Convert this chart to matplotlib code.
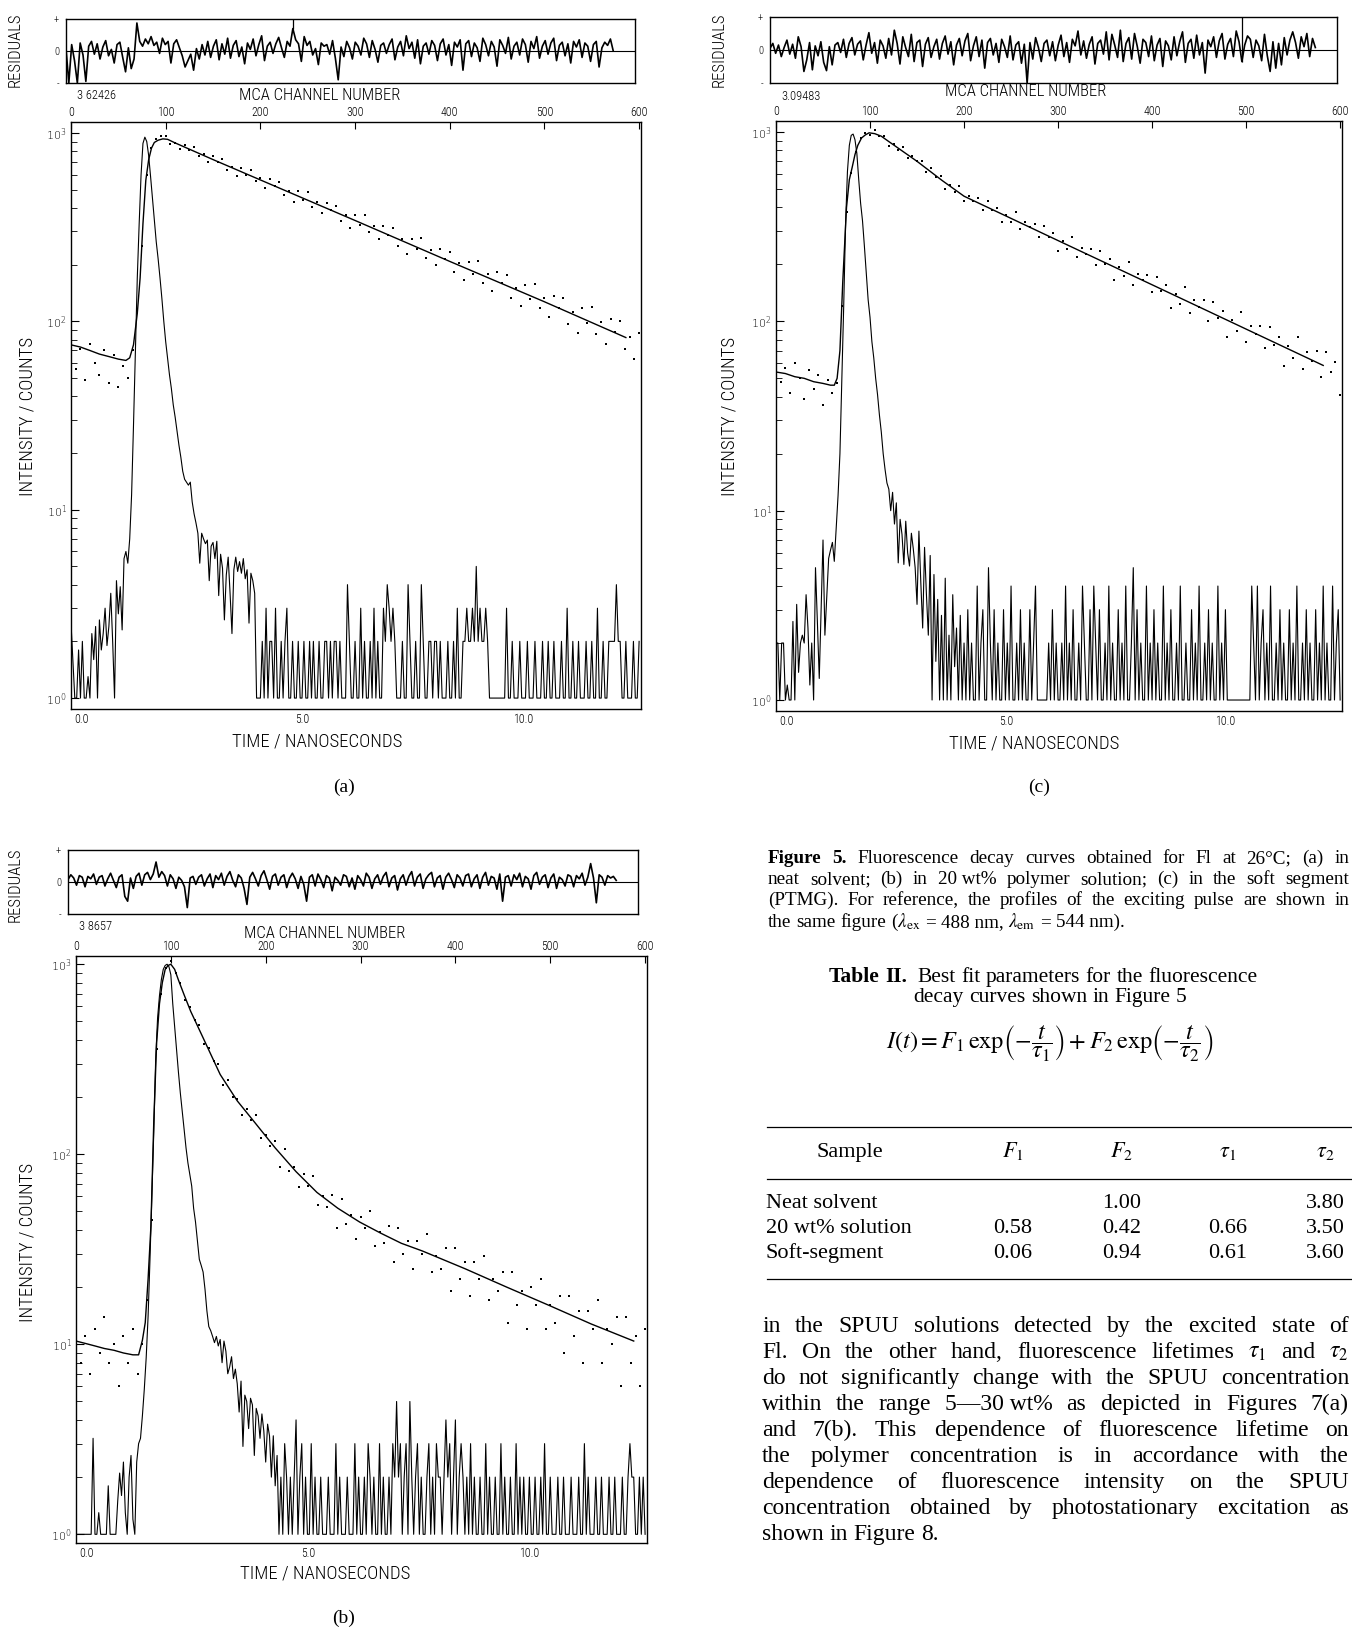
import numpy as np
import matplotlib
matplotlib.use("Agg")
import matplotlib.pyplot as plt
from matplotlib.lines import Line2D
from matplotlib.ticker import FixedLocator, NullFormatter

# ============================ DATA ============================
channel_ticks = [0, 100, 200, 300, 400, 500, 600]
time_ticks = [0.0, 5.0, 10.0]
time_labels = ["0.0", "5.0", "10.0"]
decades = [1, 10, 100, 1000]
decade_labels = [r"$10^{0}$", r"$10^{1}$", r"$10^{2}$", r"$10^{3}$"]
minor_counts = [2, 3, 4, 5, 6, 7, 8, 9, 20, 30, 40, 50, 60, 70, 80, 90,
                200, 300, 400, 500, 600, 700, 800, 900]

chi_a, chi_b, chi_c = "3 62426", "3 8657", "3.09483"
resid_marker_a = 240
resid_marker_c = 501

RESID_STEP, IRF_STEP, DOT_STEP = 3, 2, 5
CH_PER_NS, T0_CH = 46.7, 11.0

# ---- weighted residuals (every 3rd channel) ----
resid_a = [
    0.3, -4.0, 0.8, -1.2, -4.0, 1.0, -0.5, -3.8, 0.6, 1.2, -0.4, 0.9, -1.0, 0.5, 1.3, -0.6, 0.2, -1.5, 0.8, 1.1,
    -0.8, -2.6, 0.4, -2.2, -1.0, 3.5, 1.2, 0.6, 1.5, 0.9, 1.8, 0.7, 1.1, -0.3, 1.6, 0.8, 1.2, -1.5, 0.9, 1.4,
    0.4, -0.6, -2.0, -1.2, -0.4, -2.4, 0.3, -1.0, 0.8, -0.5, 1.2, -0.8, 0.6, 1.4, -1.1, 0.9, -0.4, 1.6, -0.9, 0.7,
    1.3, -0.7, 0.5, -1.6, 1.0, 0.2, 1.5, -0.6, 0.8, 1.9, -1.2, 0.6, 1.1, -0.3, 0.9, 1.7, 0.4, -0.8, 1.2, 0.6,
    2.8, 1.4, 0.9, -1.3, 1.8, 0.7, 1.2, -0.5, 0.3, -1.7, 1.0, 0.6, 0.8, -0.4, 1.3, -0.9, -3.6, 0.5, -0.7, 1.2,
    0.4, -1.0, 1.1, 0.6, -0.5, 1.6, 0.9, -0.8, 1.3, 0.2, -1.4, 0.7, 1.0, -0.3, 0.8, 1.5, -1.1, 0.5, 1.2, -0.6,
    1.9, 0.3, 1.1, -0.9, 1.4, -1.6, 0.6, 1.0, -0.4, 1.3, 0.7, -1.2, 0.9, 1.5, -0.5, 0.8, -1.8, 1.1, 0.5, 1.4,
    -2.4, 0.9, 1.3, -0.7, 1.0, 0.4, -1.3, 1.6, 0.8, -0.6, 1.2, 0.5, -1.9, 1.4, 0.7, -0.3, 1.7, -1.0, 0.6, 1.1,
    -0.5, 1.5, 0.8, -1.4, 1.2, 0.3, 1.8, -0.9, 0.6, 1.3, -0.4, 1.0, 1.6, -1.2, 0.7, 1.1, -0.6, 0.9, -1.5, 1.2,
    0.5, 1.4, -0.8, 1.0, 0.6, -1.3, 0.8, 1.2, -2.0, 0.4, 1.1, 0.7, 1.5, 0.0]

resid_c = [
    0.2, 0.8, -0.4, 0.6, -0.8, 0.3, 1.2, -0.5, 0.7, -1.0, 1.6, 0.4, -2.6, -1.2, 0.9, -2.4, 0.5, -0.7, 1.0, -1.5,
    -2.5, 0.4, -1.8, 0.6, 0.9, -0.3, 1.3, -0.9, 0.8, 1.5, -0.6, 0.7, 1.1, -1.2, 0.6, 2.1, -0.4, 0.9, -1.6, 1.2,
    0.5, -1.0, 1.4, -0.6, 2.4, 0.8, -1.7, 1.6, 0.3, -0.8, 1.9, -1.4, 0.9, 1.2, -2.0, 0.7, 1.5, -0.9, 0.4, 1.3,
    -1.1, 0.8, 1.7, -0.5, 1.0, -1.8, 0.6, 1.4, -0.7, 1.1, 2.0, -1.3, 0.5, 1.6, -0.8, 1.2, -2.2, 0.9, 1.4, -0.6,
    0.8, -1.5, 1.3, 0.4, -0.9, 1.7, -1.2, 0.6, 1.0, -1.6, 0.7, -4.0, 0.9, -1.1, 1.5, 0.3, -1.4, 0.8, 1.2, -0.7,
    1.0, -1.3, 0.6, 1.8, -0.8, 0.9, -1.5, 1.3, 0.5, 2.3, -0.6, 1.1, -1.0, 0.7, 1.6, -1.7, 0.8, 1.2, -0.5, 2.2,
    -1.2, 1.9, 0.6, -0.9, 2.4, -1.4, 0.8, 1.5, -1.1, 2.0, 0.4, -1.6, 1.3, 0.9, -0.8, 1.7, -1.3, 0.6, 1.4, -2.0,
    1.1, 0.5, -1.2, 1.6, -0.7, 1.0, 2.2, -1.5, 0.8, 1.3, -1.0, 1.8, -0.6, 0.9, -2.8, 1.2, 0.4, 1.6, -0.9, 1.1,
    2.0, -1.1, 0.7, 1.4, -0.8, 2.3, 1.0, -1.4, 0.6, 1.7, 1.3, -0.9, 1.2, 0.5, -1.3, 1.9, -0.7, -2.6, 1.0, -2.2,
    0.8, -1.8, 1.5, -0.6, 1.2, 2.2, 0.9, -1.0, 1.6, 0.4, 2.0, -0.8, 1.4, 0.3]

resid_b = [
    0.3, 0.9, 0.5, -0.4, 0.8, 0.6, -0.6, 0.7, 0.4, 1.0, -0.3, 0.6, 0.8, -0.5, 0.4, 1.1, 0.2, -0.7, 0.6, 0.9,
    -1.8, -2.4, 0.5, -0.8, 0.7, 1.1, -0.4, 0.9, 1.2, 0.3, 1.0, 2.5, 0.6, 1.3, 0.8, -0.5, 0.9, 0.4, -0.8, 0.6,
    0.2, -0.6, -3.2, 0.5, 0.7, -0.3, 0.6, 0.9, -0.5, 0.4, 1.0, -0.7, 0.8, 0.3, 1.1, -0.4, 0.7, 1.3, 0.2, -0.6,
    0.9, 0.5, -0.8, -2.8, 0.6, 1.2, 0.4, -0.5, 0.8, 1.4, 0.3, -0.9, 0.7, 1.0, -0.4, 0.6, 0.9, -0.7, 0.5, 1.1,
    0.4, -0.8, 0.7, -0.3, -2.4, 0.6, 0.9, -0.5, 1.0, 0.3, -0.7, 0.8, 0.5, -1.1, 0.6, 0.2, -0.4, 0.9, 0.7, -0.6,
    0.5, -0.9, 0.8, 0.3, -0.5, 1.1, 0.6, -0.8, 0.4, 0.9, -0.3, 0.7, 1.2, -0.6, 0.5, 0.8, -1.0, 0.4, 0.9, -0.4,
    0.7, 1.3, -0.5, 0.6, 1.0, -0.8, 0.4, 0.9, 1.2, -0.6, 0.5, 0.8, -0.9, 0.6, 1.1, 0.3, -0.7, 0.9, 0.5, -0.5,
    0.8, 1.0, -0.6, 0.4, 0.9, -0.8, 0.6, 1.2, -0.4, 0.7, 0.5, -0.9, 1.0, -2.4, 0.6, 0.8, -0.5, 0.9, 0.3, 1.1,
    -0.6, 0.7, 0.4, -0.9, 0.8, 1.2, -0.3, 0.6, 0.9, -0.7, 0.5, 1.0, -0.8, 0.6, 0.3, -0.5, 0.9, 0.7, -0.6, 0.8,
    0.4, 1.1, -0.4, 0.6, 2.3, 0.5, -2.6, 0.9, 0.6, -0.4, 0.8, 0.5, 0.7, 0.2]

# ---- excitation pulse profiles (every 2nd channel, counts) ----
irf_a = [
    2.5, 1.6, 1, 1, 1.8, 1, 2, 1, 1, 1.3, 1, 2.2, 1.6, 2.4, 1, 2.6, 1.8, 2.2, 3.0, 1.9,
    2.4, 3.6, 2.0, 1, 4.2, 2.8, 3.9, 2.3, 5.5, 6.0,
    5.2, 7, 12, 28, 70, 170, 330, 600, 880, 950,
    900, 760, 590, 450, 340, 265, 215, 170, 132, 100,
    78, 64, 52, 44, 36, 31, 26, 22, 19, 16,
    14.5, 14, 13.5, 14, 11, 9.5, 8.5, 7.5, 5.2, 7.5,
    7, 6.6, 6.9, 4.2, 6.4, 6.7, 5.5, 6.8, 3.5, 5.8,
    4.9, 2.6, 4.5, 5.6, 3.6, 2.2, 4.8, 5.6, 4.7, 5.3,
    4.6, 5.5, 4.3, 4.8, 2.5, 4.6, 4.2, 3.6, 1,
    1, 1, 2, 1, 3, 1, 2, 2, 1, 3, 1, 1, 2, 1, 2, 3, 1, 1, 2, 1, 1, 2,
    1, 1, 2, 1, 1, 2, 1, 2, 1, 1, 2, 1, 1, 2, 2, 1, 2, 1, 2, 2, 1, 2,
    1, 1, 1, 4, 2, 1, 1, 2, 1, 1, 3, 1, 2, 1, 1, 2, 1, 3, 1, 2, 1, 1,
    3, 2, 4, 3, 2, 3, 2, 1, 1, 1, 2, 1, 1, 4, 2, 1, 1, 2, 1, 1, 4, 2,
    1, 1, 2, 2, 1, 2, 2, 1, 2, 1, 1, 1, 2, 1, 1, 2, 1, 3, 1, 1, 2, 2,
    3, 2, 2, 3, 2, 5, 2, 3, 2, 2, 3, 2, 1, 1, 1, 1, 1, 1, 1, 1, 1, 3,
    1, 1, 2, 1, 1, 1, 2, 1, 1, 1, 2, 1, 1, 1, 2, 1, 1, 1, 2, 1, 1, 2,
    1, 1, 2, 1, 1, 1, 2, 1, 1, 3, 1, 1, 2, 1, 1, 2, 1, 1, 1, 2, 1, 1,
    2, 1, 1, 3, 1, 1, 2, 1, 1, 2, 2, 2, 2, 4, 2, 2, 1, 1, 2, 1, 1, 1,
    2, 1, 1, 2]

irf_c = [
    2, 2, 1, 2, 2, 1, 1.2, 1, 1, 2.6, 1, 3.2, 1.4, 2, 2.2, 2, 3.6, 2.4, 1.2, 2,
    1, 5, 2.6, 1.3, 3, 7, 2.2, 3.5, 5.6, 6.2,
    6.8, 5.4, 8, 12, 20, 48, 120, 330, 620, 850,
    960, 975, 910, 770, 560, 420, 340, 250, 180, 130,
    105, 78, 64, 50, 41, 32, 26, 20, 16.5, 14,
    13, 10, 12.5, 8.5, 11, 5.3, 9, 7.5, 5.2, 8.8,
    6, 5.1, 7.6, 6.3, 5, 3.2, 7.8, 4.2, 2.4, 6.4,
    3.6, 2.2, 5.8, 1, 4.6, 1.6, 3.4, 1, 2.8, 1,
    4.4, 1, 2.2, 1, 3.6, 1.5, 2.4, 1, 2.8, 1,
    2,
    1, 3, 1, 2, 1, 1, 4, 1, 2, 3, 1, 1, 5, 2, 1, 3, 1, 2, 1, 1,
    3, 1, 2, 1, 4, 1, 1, 2, 1, 3, 1, 2, 1, 1, 3, 1, 2, 4, 1, 1,
    1, 1, 1, 1, 2, 1, 3, 1, 2, 1, 1, 2, 1, 4, 1, 2, 1, 3, 1, 1,
    2, 1, 4, 2, 1, 1, 3, 1, 4, 2, 1, 3, 1, 1, 2, 1, 4, 1, 2, 1,
    1, 3, 1, 2, 1, 4, 1, 1, 2, 5, 1, 3, 1, 2, 1, 1, 4, 1, 2, 1,
    3, 1, 2, 1, 1, 4, 1, 2, 1, 3, 1, 1, 2, 1, 4, 1, 1, 2, 1, 1,
    3, 1, 2, 1, 4, 1, 1, 2, 1, 3, 1, 2, 1, 1, 4, 1, 2, 1, 3, 1,
    1, 1, 1, 1, 1, 1, 1, 1, 1, 1, 1, 1, 4, 2, 1, 4, 1, 2, 3, 1,
    2, 1, 4, 1, 1, 2, 1, 3, 1, 2, 1, 1, 3, 1, 2, 1, 4, 1, 1, 2,
    1, 3, 1, 2, 1, 1, 3, 1, 2, 1, 4, 1, 2, 1, 1, 4, 1, 2, 3, 1]

irf_b = [
    1, 1, 1, 1, 1, 1, 1, 1, 1, 3.2, 1, 1, 1.3, 1, 1, 1, 1, 1.8, 1, 1,
    1, 1, 1.5, 2.1, 1.6, 2.4, 1.3, 1, 2, 2.6, 1.2, 1, 2.4, 3.0,
    3.2, 4.2, 5.8, 8.5, 14, 28, 60, 131, 318, 520,
    683, 830, 940, 985, 1000, 970, 880, 620, 470, 360,
    270, 210, 169, 135, 108, 90, 78, 68, 52, 44,
    35, 28, 26, 24, 19.5, 15, 12.4, 11.8, 11, 10.2,
    11, 9.8, 10.6, 8, 10.4, 9.2, 7, 7.6, 8.6, 6.6,
    7.4, 6.2, 4.4, 6.4, 2.9, 5.4, 5.0, 3.6, 5.2, 4.8,
    2.6, 4.6, 4.2, 3.2, 4.3, 3.5, 2.4, 3.8, 3.3, 2.0,
    3.3, 1.8, 2.6, 1,
    2, 1, 3, 2, 1, 2, 1, 2, 4, 1, 2, 3, 1, 2, 1, 1, 3, 1, 2,
    1, 1, 2, 1, 1, 1, 2, 1, 1, 1, 3, 1, 2, 1, 1, 1, 2, 1, 1,
    1, 3, 1, 2, 1, 1, 2, 1, 3, 2, 1, 2, 1, 1, 3, 1, 2, 1, 1,
    2, 1, 3, 2, 5, 2, 3, 1, 2, 3, 1, 5, 2, 1, 2, 3, 1, 2, 1,
    1, 2, 3, 1, 2, 1, 3, 2, 2, 1, 2, 4, 2, 3, 1, 2, 4, 1, 2,
    3, 2, 1, 2, 1, 3, 1, 2, 1, 1, 2, 1, 1, 3, 1, 2, 1, 1, 2,
    1, 1, 3, 1, 2, 1, 1, 2, 1, 1, 3, 1, 2, 1, 2, 1, 1, 2, 1,
    1, 2, 1, 1, 2, 1, 3, 1, 1, 2, 1, 1, 1, 2, 1, 1, 2, 1, 1,
    1, 2, 1, 1, 1, 2, 1, 1, 3, 1, 2, 1, 1, 1, 2, 1, 1, 2, 1,
    1, 1, 2, 1, 1, 2, 1, 1, 1, 2, 1, 1, 2, 3, 2, 2, 1, 1, 2,
    1, 2, 1]

# ---- measured decay (every 5th channel, counts) ----
dots_a = [
    82, 56, 71, 49, 76, 60, 52, 70, 47, 66, 45, 58, 50, 70, 115, 250, 600, 830, 930, 960,
    958, 874, 886, 818, 863, 808, 841, 754, 771, 704,
    752, 704, 723, 639, 659, 594, 649, 598, 638, 553,
    575, 513, 566, 523, 546, 467, 491, 432, 489, 441,
    483, 406, 429, 374, 426, 388, 411, 342, 365, 313,
    367, 326, 365, 297, 320, 272, 320, 288, 311, 250,
    272, 228, 275, 241, 276, 218, 239, 199, 241, 214,
    233, 182, 203, 165, 207, 178, 209, 160, 179, 144,
    182, 159, 177, 133, 151, 120, 155, 132, 158, 117,
    133, 105, 137, 118, 133, 97, 112, 87, 117, 98,
    119, 86, 99, 76, 103, 88, 100, 71, 83, 63,
    87, 72]

dots_c = [
    62, 48, 57, 42, 60, 50, 39, 55, 44, 52, 36, 49, 42, 47, 120, 380, 610, 780, 930, 985,
    963, 1019, 952, 955, 843, 864, 802, 838, 727, 745,
    700, 699, 615, 649, 580, 584, 500, 528, 484, 519,
    431, 458, 434, 448, 389, 431, 385, 398, 334, 366,
    336, 378, 307, 334, 314, 328, 278, 318, 278, 292,
    236, 266, 241, 279, 218, 244, 227, 240, 198, 234,
    200, 213, 166, 193, 173, 205, 155, 177, 165, 176,
    142, 172, 145, 156, 118, 140, 124, 152, 110, 129,
    119, 129, 101, 127, 104, 114, 83, 102, 89, 112,
    78, 94, 86, 95, 72, 93, 75, 83, 58, 74,
    64, 83, 56, 69, 62, 70, 51, 69, 54, 61,
    41, 54]

dots_b = [
    13, 8, 11, 7, 12, 9, 14, 8, 10, 6, 11, 8, 12, 7, 10, 17, 45, 360, 700, 960,
    1035, 899, 799, 646, 595, 506, 480, 380, 362, 311,
    300, 231, 247, 200, 195, 161, 173, 152, 161, 122,
    126, 111, 117, 86, 106, 82, 86, 67, 79, 68,
    77, 54, 60, 53, 61, 41, 58, 43, 48, 36,
    47, 41, 50, 33, 39, 34, 42, 27, 41, 30,
    35, 25, 35, 30, 38, 24, 29, 25, 32, 19,
    32, 22, 27, 18, 27, 22, 29, 17, 22, 19,
    24, 13, 24, 16, 19, 12, 20, 16, 22, 12,
    16, 13, 18, 9, 18, 11, 15, 8, 15, 12,
    17, 8, 12, 10, 14, 6, 14, 8, 11, 6,
    12, 9]

# ---- fitted curves (channel, counts) ----
fit_a_ch = [0, 10, 20, 30, 40, 50, 58, 62, 66, 70, 73, 76, 79, 82, 85, 88, 92, 97, 102, 110,
            150, 200, 300, 400, 500, 586]
fit_a = [75, 73, 70, 67, 65, 63, 62, 64, 75, 110, 170, 330, 560, 720, 830, 890, 915, 930, 925, 885,
         722, 563, 343, 208, 127, 82]
fit_c_ch = [0, 10, 20, 30, 40, 50, 58, 62, 65, 68, 71, 75, 78, 81, 84, 87, 91, 95, 99, 105,
            112, 120, 150, 177, 200, 300, 400, 500, 582]
fit_c = [54, 53, 51, 50, 48, 47, 46, 46, 50, 70, 161, 400, 560, 650, 760, 850, 930, 965, 990, 980,
         950, 890, 700, 553, 458, 267, 156, 91, 58.5]
fit_b_ch = [0, 10, 20, 30, 40, 50, 60, 66, 70, 73, 76, 79, 82, 85, 88, 91, 94, 97, 100, 104,
            108, 114, 121, 134, 152, 170, 188, 210, 232, 254, 276, 299, 321, 343, 365, 410, 454, 499, 543, 588]
fit_b = [10.4, 10.1, 9.8, 9.5, 9.3, 9.0, 8.8, 8.8, 10.5, 13, 22, 42, 148, 385, 620, 800, 938, 985, 1000, 940,
         826, 690, 564, 410, 263, 191, 148, 108, 81, 63, 52, 44, 38.5, 34, 31, 25, 20, 16, 12.8, 10.4]

# ---- Table II ----
table_cols = ["Sample", r"$F_1$", r"$F_2$", r"$\tau_1$", r"$\tau_2$"]
table_samples = ["Neat solvent", "20 wt% solution", "Soft-segment"]
table_F1 = ["", "0.58", "0.06"]
table_F2 = ["1.00", "0.42", "0.94"]
table_tau1 = ["", "0.66", "0.61"]
table_tau2 = ["3.80", "3.50", "3.60"]

# ============================ FIGURE ============================
W, H = 1352, 1629
PFONT = ["Roboto Condensed", "Roboto", "DejaVu Sans"]
SERIF = ["Liberation Serif", "DejaVu Serif"]
plt.rcParams["font.family"] = PFONT
plt.rcParams["font.weight"] = "light"
plt.rcParams["axes.linewidth"] = 1.0
fig = plt.figure(figsize=(W / 100, H / 100), dpi=100)
fig.patch.set_facecolor("white")


def fx(x):
    return x / W


def fy(y):
    return 1 - y / H


def px_axes(l, t, r, b):
    return fig.add_axes([l / W, 1 - b / H, (r - l) / W, (b - t) / H])


def ch2ns(c):
    return (np.asarray(c) - T0_CH) / CH_PER_NS


def ns2ch(t):
    return np.asarray(t) * CH_PER_NS + T0_CH


def draw_panel(rbox, mbox, resid, irf, dots, fch, fval, chi, marker, ylim):
    axr = px_axes(*rbox)
    rch = np.arange(len(resid)) * RESID_STEP
    axr.plot(rch, resid, color="k", lw=1.2)
    axr.axhline(0, color="k", lw=0.8)
    if marker is not None:
        axr.vlines(marker, resid[marker // RESID_STEP], 4, color="k", lw=0.9)
    axr.set_xlim(0, 602)
    axr.set_ylim(-4, 4)
    axr.set_xticks([])
    axr.set_yticks([4, 0, -4])
    axr.set_yticklabels(["+", "0", "-"], fontsize=7.5, family=PFONT)
    axr.tick_params(axis="y", length=0, pad=5)
    axr.text(0.02, -0.1, chi, transform=axr.transAxes, ha="left", va="top",
             fontsize=9, family=PFONT)

    ax = px_axes(*mbox)
    ax.set_yscale("log")
    ax.set_xlim(0, 602)
    ax.set_ylim(*ylim)
    ax.plot(np.arange(len(irf)) * IRF_STEP, irf, color="k", lw=0.8)
    ax.plot(fch, fval, color="k", lw=1.0)
    ax.plot(np.arange(len(dots)) * DOT_STEP, dots, ls="none", marker="s",
            ms=2.0, mew=0, color="k")
    ax.xaxis.set_ticks_position("top")
    ax.set_xticks(channel_ticks)
    ax.set_xticklabels([str(c) for c in channel_ticks], fontsize=8.5, family=PFONT)
    ax.tick_params(axis="x", direction="in", length=5, pad=2, top=True,
                   bottom=False, labeltop=True, labelbottom=False)
    ax.yaxis.set_major_locator(FixedLocator(decades))
    ax.set_yticklabels(decade_labels, fontsize=8)
    ax.yaxis.set_minor_locator(FixedLocator(minor_counts))
    ax.yaxis.set_minor_formatter(NullFormatter())
    ax.tick_params(axis="y", which="major", direction="in", length=6, pad=3,
                   left=True, right=False)
    ax.tick_params(axis="y", which="minor", direction="in", length=4,
                   left=True, right=False)
    sec = ax.secondary_xaxis("bottom", functions=(ch2ns, ns2ch))
    sec.set_xticks(time_ticks)
    sec.set_xticklabels(time_labels, fontsize=8.5, family=PFONT)
    sec.tick_params(length=0, pad=3)
    sec.spines["bottom"].set_visible(False)
    return axr, ax


YL_AC = (0.875, 1143)
YL_B = (0.90, 1105)
draw_panel((66, 19, 635, 83), (71, 122, 641, 709), resid_a, irf_a, dots_a,
           fit_a_ch, fit_a, chi_a, resid_marker_a, YL_AC)
draw_panel((770, 17, 1337, 83), (776, 121, 1342, 711), resid_c, irf_c, dots_c,
           fit_c_ch, fit_c, chi_c, resid_marker_c, YL_AC)
draw_panel((68, 850, 638, 914), (76, 956, 647, 1543), resid_b, irf_b, dots_b,
           fit_b_ch, fit_b, chi_b, None, YL_B)

# axis titles (plotter lettering)
panel_text = [
    # residual label, intensity label, MCA label, time label, panel tag
    ((15, 50), (28, 416), (320, 95), (317, 741), (344, 787), "(a)"),
    ((719, 50), (730, 416), (1026, 92), (1034, 744), (1039, 787), "(c)"),
    ((15, 885), (28, 1242), (325, 933), (325, 1573), (344, 1618), "(b)"),
]
for rl, il, ml, tl, pl, tag in panel_text:
    fig.text(fx(rl[0]), fy(rl[1]), "RESIDUALS", rotation=90, ha="center", va="center",
             fontsize=12, family=PFONT)
    fig.text(fx(il[0]), fy(il[1]), "INTENSITY / COUNTS", rotation=90, ha="center",
             va="center", fontsize=13.5, family=PFONT)
    fig.text(fx(ml[0]), fy(ml[1]), "MCA CHANNEL NUMBER", ha="center", va="center",
             fontsize=12, family=PFONT)
    fig.text(fx(tl[0]), fy(tl[1]), "TIME / NANOSECONDS", ha="center", va="center",
             fontsize=13.5, family=PFONT)
    fig.text(fx(pl[0]), fy(pl[1]), tag, ha="center", va="center", fontsize=14,
             family=SERIF, fontweight="normal")

# ============================ TEXT BLOCK ============================
renderer = fig.canvas.get_renderer()


def put_words(words, x0, x1, y, size, mode="justify"):
    texts, widths = [], []
    for w in words:
        s, wt = (w if isinstance(w, tuple) else (w, "normal"))
        t = fig.text(0, fy(y), s.replace("~", " "), fontsize=size, family=SERIF,
                     fontweight=wt, math_fontfamily="stix", va="baseline", ha="left")
        texts.append(t)
        widths.append(t.get_window_extent(renderer).width)
    space = 0.25 * size * 100 / 72
    if mode == "justify" and len(words) > 1:
        gap = (x1 - x0 - sum(widths)) / (len(words) - 1)
        x = x0
    elif mode == "center":
        gap = space
        x = x0 - (sum(widths) + gap * (len(words) - 1)) / 2
    else:
        gap = space
        x = x0
    for t, wd in zip(texts, widths):
        t.set_x(fx(x))
        x += wd + gap


CAP = 13.8
cap_lines = [
    [("Figure", "bold"), ("5.", "bold")] + "Fluorescence decay curves obtained for Fl at 26°C; (a) in".split(),
    "neat solvent; (b) in 20~wt% polymer solution; (c) in the soft segment".split(),
    "(PTMG). For reference, the profiles of the exciting pulse are shown in".split(),
]
cap_y = [863, 884, 905]
for words, y in zip(cap_lines, cap_y):
    put_words(words, 768, 1349, y, CAP)
put_words(r"the same figure ($\lambda_\mathrm{ex}$ = 488~nm, $\lambda_\mathrm{em}$ = 544~nm).".split(),
          768, 1349, 927, CAP, mode="left")

# Table title
TT = 15.5
put_words([("Table", "bold"), ("II.", "bold"), "", "Best", "fit", "parameters", "for", "the",
           "fluorescence"], 1043, 0, 982, TT, mode="center")
put_words("decay curves shown in Figure 5".split(), 1050, 0, 1002, TT, mode="center")
fig.text(fx(1050), fy(1043),
         r"$I(t)=F_1\,\exp\!\left(-\dfrac{t}{\tau_1}\right)+F_2\,\exp\!\left(-\dfrac{t}{\tau_2}\right)$",
         fontsize=17.5, math_fontfamily="stix", ha="center", va="center")

for yy in (1127, 1179, 1279):
    fig.add_artist(Line2D([fx(767), fx(1352)], [fy(yy), fy(yy)], transform=fig.transFigure,
                          color="k", lw=0.9))
TB = 16
col_x = [850, 1013, 1122, 1228, 1325]
for cx, lab in zip(col_x, table_cols):
    fig.text(fx(cx), fy(1157), lab, fontsize=TB, family=SERIF, math_fontfamily="stix",
             ha="center", va="baseline", fontweight="normal")
row_y = [1208, 1233, 1258]
for i, yy in enumerate(row_y):
    fig.text(fx(766), fy(yy), table_samples[i], fontsize=TB, family=SERIF, ha="left",
             va="baseline", fontweight="normal")
    for cx, col in zip(col_x[1:], (table_F1, table_F2, table_tau1, table_tau2)):
        if col[i]:
            fig.text(fx(cx), fy(yy), col[i], fontsize=TB, family=SERIF, ha="center",
                     va="baseline", fontweight="normal")

# Paragraph
PAR = 17
par_lines = [
    "in the SPUU solutions detected by the excited state of",
    r"Fl. On the other hand, fluorescence lifetimes $\tau_1$ and $\tau_2$",
    "do not significantly change with the SPUU concentration",
    "within the range 5—30~wt% as depicted in Figures 7(a)",
    "and 7(b). This dependence of fluorescence lifetime on",
    "the polymer concentration is in accordance with the",
    "dependence of fluorescence intensity on the SPUU",
    "concentration obtained by photostationary excitation as",
    "shown in Figure 8.",
]
par_y0, par_dy = 1332, 26
for k, line in enumerate(par_lines):
    last = k == len(par_lines) - 1
    put_words(line.split(), 762, 1349, par_y0 + k * par_dy, PAR,
              mode="left" if last else "justify")

fig.savefig("out.png", dpi=100, facecolor="white")
